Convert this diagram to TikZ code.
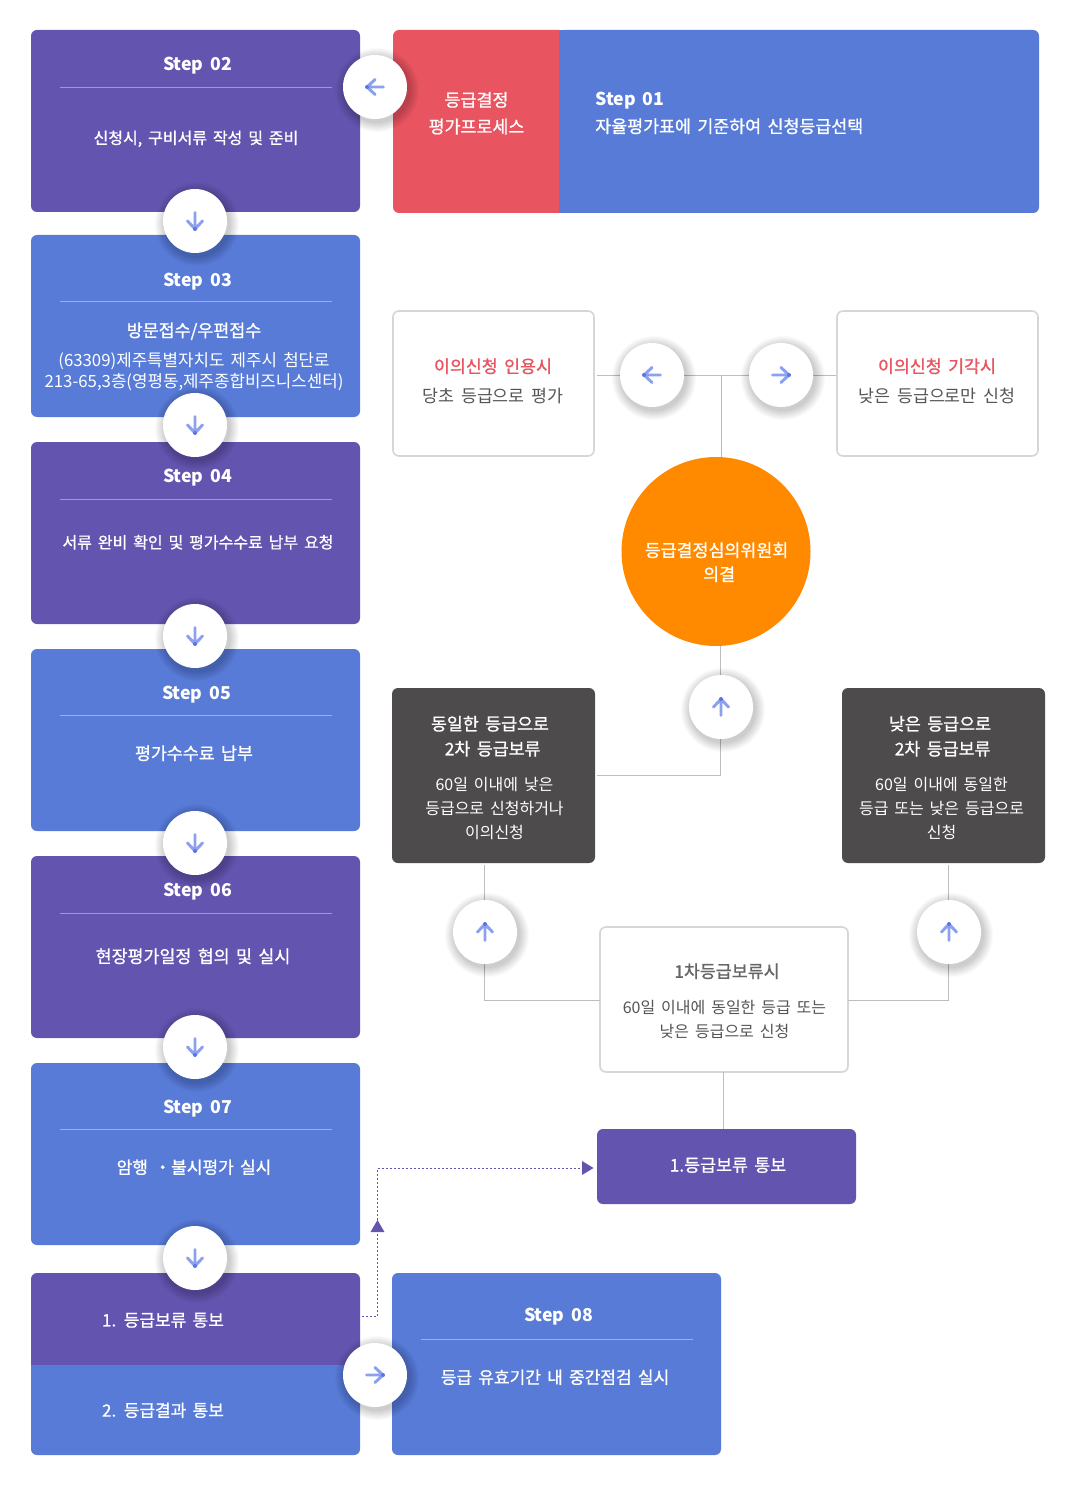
\documentclass[tikz,border=0pt]{standalone}
\usepackage{fontspec}
\setmainfont[WordSpace=1.65]{Noto Sans CJK KR}
\newfontfamily\med[WordSpace=1.65,FakeBold=1]{Noto Sans CJK KR}
\definecolor{cpurple}{HTML}{6354B0}
\definecolor{cblue}{HTML}{577BD7}
\definecolor{cred}{HTML}{E8545F}
\definecolor{cdark}{HTML}{4D4B4B}
\definecolor{corange}{HTML}{FF8A00}
\definecolor{cline}{HTML}{BDBDBD}
\definecolor{cborder}{HTML}{D6D6D6}
\definecolor{ctext}{HTML}{555555}
\definecolor{ctitle}{HTML}{666666}
\definecolor{cicon}{HTML}{8CA0F0}
\definecolor{cicontip}{HTML}{5A76E6}
\tikzset{
  x=0.75pt,y=-0.75pt,
  boxbase/.style={anchor=north west,inner sep=0pt,outer sep=0pt,rounded corners=4.5pt},
  btn/.style={circle,fill=white,minimum size=48pt,inner sep=0pt,outer sep=0pt},
  txt/.style={inner sep=0pt,align=center,yshift=-0.2pt},
  head/.style={txt,text=white,font=\fontsize{13.3}{16}\selectfont\bfseries,yshift=-0.5pt},
  bodyl/.style={txt,text=white,font=\fontsize{12}{18}\selectfont\med},
  bodym/.style={txt,text=white,font=\fontsize{13}{18}\selectfont\med},
  bodys/.style={txt,text=white,font=\fontsize{12.75}{18}\selectfont\med},
  bodyt/.style={txt,text=white,font=\fontsize{13}{18.75}\selectfont\med},
  plain/.style={txt,text=white,font=\fontsize{12}{18}\selectfont},
  addr/.style={txt,text=white,font=\fontsize{12.6}{16}\selectfont},
  graym/.style={txt,text=ctext,font=\fontsize{13}{18}\selectfont},
  grayl/.style={txt,text=ctext,font=\fontsize{12}{18}\selectfont},
  redt/.style={txt,text=cred,font=\fontsize{13}{18}\selectfont\med},
  rule/.style={draw=white,draw opacity=.4,line width=.6pt},
  conn/.style={draw=cline,line width=.75pt},
  dots/.style={draw=cpurple,line width=.75pt,dash pattern=on 1.5pt off 1.5pt},
  icon/.style={draw=cicon,line width=2.2pt,line cap=round,line join=round},
  tri/.style={fill=cpurple,draw=none},
}
\newcommand\bx[6]{\node[boxbase,#6,minimum width={(#4-#2)*0.75pt},minimum height={(#5-#3)*0.75pt}] (#1) at (#2,#3) {};}
\newcommand\shadowat[2]{\foreach \r in {33,34,...,42}{\fill[black,opacity=.018] (#1+2,#2+3) circle[radius=\r];}}
\newcommand\btnat[4]{\shadowat{#2}{#3}\node[btn] (#1) at (#2,#3) {};
  \begin{scope}[shift={(#1)},rotate=#4]
    \draw[icon] (-8.5,0)--(8,0) (0,-7.5)--(8,0)--(0,7.5);
    \fill[cicontip] (8,0) circle[radius=2];
  \end{scope}}
\begin{document}
\begin{tikzpicture}
\useasboundingbox (0,0) rectangle (1070,1508);
\fill[white] (0,0) rectangle (1070,1508);
% left column
\bx{s2}{31}{30}{360}{212}{fill=cpurple}
\bx{s3}{31}{235}{360}{417}{fill=cblue}
\bx{s4}{31}{442}{360}{624}{fill=cpurple}
\bx{s5}{31}{649}{360}{831}{fill=cblue}
\bx{s6}{31}{856}{360}{1038}{fill=cpurple}
\bx{s7}{31}{1063}{360}{1245}{fill=cblue}
\fill[cpurple] (31,1365) [rounded corners=4.5pt] -- (31,1273) -- (360,1273) [sharp corners] -- (360,1365) -- cycle;
\fill[cblue] (31,1365) [rounded corners=4.5pt] -- (31,1455) -- (360,1455) [sharp corners] -- (360,1365) -- cycle;
\bx{s8}{392}{1273}{721}{1455}{fill=cblue}
% top band
\bx{s1}{559}{30}{1039}{213}{fill=cblue}
\fill[cred] (559,30) [rounded corners=4.5pt] -- (393,30) -- (393,213) [sharp corners] -- (559,213) -- cycle;
\fill[cblue] (559,30) rectangle (570,213);
% right boxes
\bx{ra}{393}{311}{594}{456}{draw=cborder,line width=1.2pt,fill=white}
\bx{rb}{837}{311}{1038}{456}{draw=cborder,line width=1.2pt,fill=white}
\bx{da}{392}{688}{595}{863}{fill=cdark}
\bx{db}{842}{688}{1045}{863}{fill=cdark}
\bx{wh}{600}{927}{848}{1072}{draw=cborder,line width=1.2pt,fill=white}
\bx{pu}{597}{1129}{856}{1204}{fill=cpurple}
\node[circle,fill=corange,minimum size=141.75pt,inner sep=0pt,outer sep=0pt] (oc) at (716,551.5) {};
% connectors
\coordinate (j1) at (721.5,375.5);
\draw[conn] ([xshift=2.25pt]ra.east |- j1) -- ([xshift=-1pt]rb.west |- j1);
\draw[conn] (j1) -- (j1 |- oc.north);
\coordinate (j2) at (720.5,775.5);
\draw[conn] ([xshift=1.5pt]da.east |- j2) -- (j2) -- (j2 |- oc.south);
\coordinate (j3) at (484.5,1000.5);
\draw[conn] ([yshift=-1.5pt]j3 |- da.south) -- (j3) -- (wh.west |- j3);
\coordinate (j4) at (948.5,1000.5);
\draw[conn] (wh.east |- j4) -- (j4) -- ([yshift=-1.5pt]j4 |- db.south);
\coordinate (j5) at (723.5,1100);
\draw[conn] (j5 |- wh.south) -- (j5 |- pu.north);
% dotted
\coordinate (d0) at (362,1316.5);
\coordinate (d1) at (377,1316.5);
\coordinate (d2) at (377,1168);
\coordinate (d3) at (580,1168);
\draw[dots] (d0) -- (d1) -- (d2) -- (d3);
\fill[tri] (377.5,1220) -- (384.5,1232) -- (370.5,1232) -- cycle;
\fill[tri] (593.5,1168) -- (582,1161) -- (582,1175) -- cycle;
% rules
\foreach \y in {87.5,301.5,499.5,715.5,913.5,1129.5}{\draw[rule] (60,\y) -- (332,\y);}
\draw[rule] (421,1339.5) -- (693,1339.5);
% buttons
\btnat{b1}{375}{87}{180}
\btnat{b2}{195}{221}{-90}
\btnat{b3}{195}{425}{-90}
\btnat{b4}{195}{636}{-90}
\btnat{b5}{195}{843}{-90}
\btnat{b6}{195}{1047}{-90}
\btnat{b7}{195}{1258}{-90}
\btnat{b8}{375}{1375}{0}
\btnat{b9}{652}{375}{180}
\btnat{b10}{781}{375}{0}
\btnat{b11}{721}{707}{90}
\btnat{b12}{485}{932}{90}
\btnat{b13}{949}{932}{90}
% text
\node[head] (t2) at (197.5,65) {Step 02};
\node[bodyl] (t2b) at (196,138.5) {신청시, 구비서류 작성 및 준비};
\node[head] (t3) at (197.5,281) {Step 03};
\node[bodym] (t3b) at (194,331) {방문접수/우편접수};
\node[addr] (t3c) at (194,371.5) {(63309)제주특별자치도 제주시 첨단로\\213-65,3층(영평동,제주종합비즈니스센터)};
\node[head] (t4) at (197.5,477) {Step 04};
\node[bodyl] (t4b) at (198,542) {서류 완비 확인 및 평가수수료 납부 요청};
\node[head] (t5) at (196.5,694) {Step 05};
\node[bodym] (t5b) at (194,753) {평가수수료 납부};
\node[head] (t6) at (197.5,891) {Step 06};
\node[bodym] (t6b) at (193,956) {현장평가일정 협의 및 실시};
\node[head] (t7) at (197.5,1108) {Step 07};
\node[bodys] (t7b) at (194,1167) {암행 ・불시평가 실시};
\node[bodys] (t9) at (163,1320) {1. 등급보류 통보};
\node[bodys] (t10) at (163,1410) {2. 등급결과 통보};
\node[head] (t8) at (558.5,1316) {Step 08};
\node[bodys] (t8b) at (555,1377) {등급 유효기간 내 중간점검 실시};
\node[bodym,font=\fontsize{13}{20}\selectfont\med] (tr) at (476.5,113) {등급결정\\평가프로세스};
\node[head,anchor=west] (t1) at (595,100) {Step 01};
\node[bodym,anchor=west] (t1b) at (595,126) {자율평가표에 기준하여 신청등급선택};
\node[redt] (ra1) at (493,366) {이의신청 인용시};
\node[graym] (ra2) at (493,396) {당초 등급으로 평가};
\node[redt] (rb1) at (937,366) {이의신청 기각시};
\node[graym] (rb2) at (937,396) {낮은 등급으로만 신청};
\node[bodym] (oct) at (716.5,562) {등급결정심의위원회\\\hspace*{4pt}의결};
\node[bodyt] (da1) at (490,736) {동일한 등급으로\\\hspace*{4pt}2차 등급보류};
\node[plain] (da2) at (494.5,808) {60일 이내에 낮은\\등급으로 신청하거나\\이의신청};
\node[bodyt] (db1) at (940,736) {낮은 등급으로\\\hspace*{4pt}2차 등급보류};
\node[plain] (db2) at (941.5,808) {60일 이내에 동일한\\등급 또는 낮은 등급으로\\신청};
\node[graym,text=ctitle,font=\fontsize{13}{18}\selectfont\med] (w1) at (727,971) {1차등급보류시};
\node[grayl] (w2) at (724.5,1019) {60일 이내에 동일한 등급 또는\\낮은 등급으로 신청};
\node[bodym] (pt) at (728,1165) {1.등급보류 통보};
\end{tikzpicture}
\end{document}
